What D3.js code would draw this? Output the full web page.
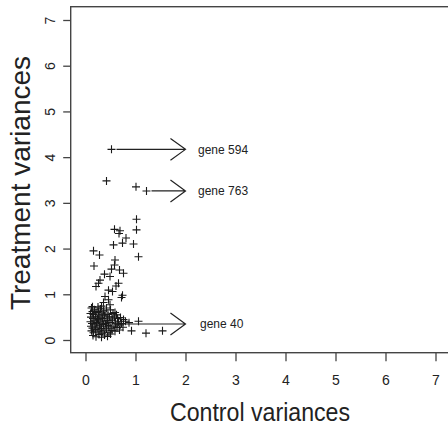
<!DOCTYPE html>
<html>
<head>
<meta charset="utf-8">
<script src="https://cdn.jsdelivr.net/npm/d3@7"></script>
<style>
  body { margin: 0; background: #fff; }
  text { font-family: "Liberation Sans", Arial, sans-serif; fill: #222; }
</style>
</head>
<body>
<div id="container"></div>
<script>
/* CONSTANTS AND GLOBALS */
const width = 448,
  height = 430;

/* DATA */
const xTicks = [0, 1, 2, 3, 4, 5, 6, 7];
const yTicks = [0, 1, 2, 3, 4, 5, 6, 7];

// control variance (x) / treatment variance (y) for each gene
const controlVar = [
  0.52, 0.42, 1.01, 1.22, 1.02, 0.58, 0.69, 1.02, 0.67, 0.81, 0.56, 0.74, 0.96,
  0.16, 0.28, 1.06, 0.17, 0.59, 0.58, 0.52, 0.68, 0.76, 0.38, 0.49, 0.29, 0.26,
  0.21, 0.66, 0.61, 0.46, 0.54, 0.74, 0.72, 0.39, 0.46, 0.36, 0.32, 0.49, 0.14,
  0.59, 0.26, 0.65, 1.06, 0.92, 1.21, 1.54,
  0.12, 0.18, 0.25, 0.30, 0.36, 0.42, 0.50, 0.14,
  0.10, 0.16, 0.21, 0.27, 0.33, 0.39, 0.45, 0.55, 0.62,
  0.11, 0.15, 0.20, 0.24, 0.29, 0.34, 0.38, 0.43, 0.48, 0.53, 0.58, 0.64, 0.70, 0.76,
  0.10, 0.13, 0.17, 0.22, 0.26, 0.31, 0.35, 0.40, 0.44, 0.49, 0.54, 0.60, 0.66, 0.72, 0.80, 0.87,
  0.11, 0.14, 0.19, 0.23, 0.28, 0.32, 0.36, 0.41, 0.46, 0.51, 0.57, 0.63, 0.69, 0.75,
  0.12, 0.16, 0.20, 0.25, 0.29, 0.33, 0.37, 0.42, 0.47, 0.53, 0.59, 0.68,
  0.15, 0.21, 0.27, 0.32, 0.38, 0.44, 0.50
];
const treatVar = [
  4.17, 3.48, 3.35, 3.26, 2.64, 2.42, 2.39, 2.41, 2.33, 2.23, 2.08, 2.12, 2.10,
  1.95, 1.86, 1.82, 1.62, 1.75, 1.64, 1.55, 1.53, 1.46, 1.44, 1.39, 1.31, 1.24,
  1.17, 1.24, 1.18, 1.09, 1.06, 0.98, 0.93, 0.95, 0.88, 0.82, 0.74, 0.77, 0.73,
  0.60, 0.62, 0.35, 0.41, 0.20, 0.15, 0.20,
  0.70, 0.66, 0.72, 0.68, 0.64, 0.70, 0.66, 0.62,
  0.58, 0.56, 0.60, 0.57, 0.55, 0.59, 0.56, 0.58, 0.55,
  0.50, 0.47, 0.52, 0.46, 0.50, 0.47, 0.53, 0.48, 0.51, 0.46, 0.50, 0.47, 0.49, 0.45,
  0.40, 0.36, 0.42, 0.38, 0.44, 0.37, 0.41, 0.36, 0.43, 0.38, 0.42, 0.37, 0.40, 0.36, 0.41, 0.38,
  0.30, 0.26, 0.33, 0.28, 0.31, 0.25, 0.34, 0.29, 0.32, 0.26, 0.30, 0.27, 0.33, 0.28,
  0.20, 0.16, 0.23, 0.18, 0.22, 0.15, 0.20, 0.24, 0.17, 0.21, 0.19, 0.22,
  0.10, 0.07, 0.12, 0.06, 0.11, 0.08, 0.13
];

// labelled genes: arrow start (x), arrow height (y), arrow tip (x)
const geneNames = ["gene 594", "gene 763", "gene 40"];
const arrowFrom = [0.62, 1.32, 0.75];
const arrowY = [4.17, 3.26, 0.35];
const arrowTo = [2.0, 2.0, 2.0];
const labelX = [2.25, 2.25, 2.29];

const points = controlVar.map((c, i) => ({ c: c, t: treatVar[i] }));
const genes = geneNames.map((g, i) => ({
  name: g, x0: arrowFrom[i], x1: arrowTo[i], y: arrowY[i], lx: labelX[i]
}));

// SCALES
const xScale = d3.scaleLinear()
  .domain([0, 7])
  .range([85.5, 435.5]);

const yScale = d3.scaleLinear()
  .domain([0, 7])
  .range([340, 20]);

const boxLeft = 70.7,
  boxTop = 6.7,
  boxBottom = 352.7;

// CREATE SVG ELEMENT
const svg = d3.select("#container")
  .append("svg")
  .attr("width", width)
  .attr("height", height);

// BOX
svg.append("rect")
  .attr("x", boxLeft)
  .attr("y", boxTop)
  .attr("width", width + 20 - boxLeft)
  .attr("height", boxBottom - boxTop)
  .attr("fill", "none")
  .attr("stroke", "#444")
  .attr("stroke-width", 1.4);

// AXES
const xAxis = d3.axisBottom(xScale)
  .tickValues(xTicks)
  .tickFormat(d3.format("d"))
  .tickSize(8.5)
  .tickSizeOuter(0);

const xAxisGroup = svg.append("g")
  .attr("class", "xAxis")
  .attr("transform", `translate(0, ${boxBottom})`)
  .call(xAxis);
xAxisGroup.select(".domain").remove();
xAxisGroup.selectAll("line").attr("stroke", "#444").attr("stroke-width", 1.3);
xAxisGroup.selectAll("text")
  .attr("y", 32)
  .attr("dy", 0)
  .style("font-size", "14px")
  .style("fill", "#222");

xAxisGroup.append("text")
  .attr("x", 260)
  .attr("y", 68.5)
  .attr("text-anchor", "middle")
  .attr("textLength", 180)
  .attr("lengthAdjust", "spacingAndGlyphs")
  .style("font-size", "25px")
  .style("fill", "#222")
  .text("Control variances");

const yAxis = d3.axisLeft(yScale)
  .tickValues(yTicks)
  .tickFormat(d3.format("d"))
  .tickSize(7.5)
  .tickSizeOuter(0);

const yAxisGroup = svg.append("g")
  .attr("class", "yAxis")
  .attr("transform", `translate(${boxLeft}, 0)`)
  .call(yAxis);
yAxisGroup.select(".domain").remove();
yAxisGroup.selectAll("line").attr("stroke", "#444").attr("stroke-width", 1.3);
yAxisGroup.selectAll("text")
  .attr("x", 0)
  .attr("dy", 0)
  .attr("transform", "translate(-16, 0) rotate(-90)")
  .attr("text-anchor", "middle")
  .style("font-size", "14px")
  .style("fill", "#222");

svg.append("text")
  .attr("transform", `translate(30, 183) rotate(-90)`)
  .attr("text-anchor", "middle")
  .style("font-size", "28px")
  .style("fill", "#222")
  .text("Treatment variances");

// POINTS (drawn as "+")
const plus = 4;
svg.selectAll(".pt")
  .data(points)
  .join("path")
  .attr("class", "pt")
  .attr("d", d => {
    const px = xScale(d.c), py = yScale(d.t);
    return `M${px - plus},${py}H${px + plus}M${px},${py - plus}V${py + plus}`;
  })
  .attr("stroke", "#1a1a1a")
  .attr("stroke-width", 1.1)
  .attr("fill", "none");

// ARROWS
const headLen = 18.6,
  headAng = 36 * Math.PI / 180;
svg.selectAll(".arrow")
  .data(genes)
  .join("path")
  .attr("class", "arrow")
  .attr("d", d => {
    const x0 = xScale(d.x0), x1 = xScale(d.x1), y = yScale(d.y);
    const hx = x1 - headLen * Math.cos(headAng),
      hy = headLen * Math.sin(headAng);
    return `M${x0},${y}H${x1}M${hx},${y - hy}L${x1},${y}L${hx},${y + hy}`;
  })
  .attr("stroke", "#222")
  .attr("stroke-width", 1.2)
  .attr("fill", "none");

svg.selectAll(".geneLabel")
  .data(genes)
  .join("text")
  .attr("class", "geneLabel")
  .attr("x", d => xScale(d.lx))
  .attr("y", d => yScale(d.y))
  .attr("dy", "0.35em")
  .style("font-size", "12px")
  .style("fill", "#222")
  .text(d => d.name);
</script>
</body>
</html>
